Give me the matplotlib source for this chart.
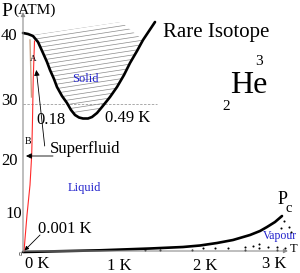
import matplotlib
matplotlib.use("Agg")
import matplotlib.pyplot as plt
from matplotlib.patches import Polygon

# schematic phase diagram of He-3, drawn in diagram units (x right, y down)
melt_x = [23, 28, 33, 38, 43, 47, 50, 54, 57, 62, 67, 71, 75, 79, 83, 88, 92, 97, 102, 110, 117, 124, 130, 137, 143, 149, 155]
melt_y = [33, 34, 36, 42, 53, 62, 70, 79, 87, 96, 103, 110, 115, 117.5, 118.5, 118.5, 117, 113, 107, 97, 87, 75, 63, 51, 40, 31, 22]

vap_x = [23, 60, 100, 150, 183, 200, 217, 233, 250, 260, 267, 275, 282]
vap_y = [252, 251.2, 250.3, 248.5, 247, 245.5, 243, 240, 235, 231, 227, 222, 216]

lambda_x = [24, 27, 30, 31.7, 32.5, 33.2, 34.5]
lambda_y = [251, 215, 185, 155, 120, 80, 41]

dots_x = [145, 160, 192, 203, 215, 228, 245, 245, 253, 259, 259, 268, 277, 277, 285, 284, 289, 281, 291]
dots_y = [250, 250, 250, 248, 248, 248, 247, 250, 246, 244, 248, 247, 247, 250, 248, 221, 227, 228, 232]

p_labels = ["40", "30", "20", "10"]
p_label_y = [39.5, 105, 165, 218]
p_label_x = [1, 1, 1, 5]
t_labels = ["0 K", "1 K", "2 K", "3 K"]
t_label_x = [25, 107, 193, 262]
t_label_y = [267.5, 270, 269.5, 267.5]

serif = ["Liberation Serif", "DejaVu Serif"]
blue = "#2222cc"
gray = "#8c8c8c"

fig = plt.figure(figsize=(3, 2.73), dpi=100)
ax = fig.add_axes([0, 0, 1, 1])
ax.set_xlim(0, 300)
ax.set_ylim(273, 0)
ax.axis("off")

# axes arrows
ax.annotate("", xy=(23, 12), xytext=(23, 252),
            arrowprops=dict(arrowstyle="-|>", color=gray, lw=0.8, mutation_scale=6, shrinkA=0, shrinkB=0))
ax.annotate("", xy=(288, 251), xytext=(23, 251),
            arrowprops=dict(arrowstyle="-|>", color=gray, lw=0.8, mutation_scale=6, shrinkA=0, shrinkB=0))

# 30 atm dashed line
ax.plot([23, 157], [104, 104], color="#aaaaaa", lw=0.7, ls=(0, (2.5, 1.5)))

# hatching of solid region
i0 = melt_x.index(33)
i1 = melt_x.index(143)
poly = [(x, y) for x, y in zip(melt_x[i0:i1 + 1], melt_y[i0:i1 + 1])] + [(121, 22), (33, 35)]
clip = Polygon(poly, closed=True, facecolor="none", edgecolor="none")
ax.add_patch(clip)
for k in range(20):
    y0 = 35 + 4.4 * k
    ln, = ax.plot([25, 160], [y0 + 0.153 * 8, y0 - 0.153 * 127], color="#8a8a8a", lw=0.5)
    ln.set_clip_path(clip)

# curves
ax.plot(melt_x, melt_y, color="black", lw=1.9, solid_capstyle="round")
ax.plot(vap_x, vap_y, color="black", lw=1.9, solid_capstyle="round")
ax.plot(lambda_x, lambda_y, color="#ff2a2a", lw=0.8)
ax.plot([30, 31.5], [40, 97], color="#c8a184", lw=1.0)
ax.plot(dots_x, dots_y, ls="none", marker="o", ms=1.5, mew=0, color="black")

# arrows
arr = dict(arrowstyle="-|>", color="black", lw=0.6, mutation_scale=8, shrinkA=0, shrinkB=0)
ax.annotate("", xy=(36.3, 70), xytext=(44.7, 146), arrowprops=arr)
ax.annotate("", xy=(26, 156), xytext=(53, 156), arrowprops=arr)
ax.annotate("", xy=(24.5, 250.5), xytext=(40, 235), arrowprops=dict(arr, mutation_scale=6))

# text
ax.text(1, 15.5, "P", fontsize=14, family=serif)
ax.text(13.5, 14, "(ATM)", fontsize=11, family=serif)
for s, x, y in zip(p_labels, p_label_x, p_label_y):
    ax.text(x, y, s, fontsize=12, family=serif)
ax.text(20, 254, "0", fontsize=4.5, family=serif, ha="center", va="center")
for s, x, y in zip(t_labels, t_label_x, t_label_y):
    ax.text(x, y, s, fontsize=12, family=serif)
ax.text(289.5, 251.5, "T", fontsize=9, family=serif)
ax.text(277.5, 204.5, "P", fontsize=13, family=serif)
ax.text(286, 212.5, "c", fontsize=10.5, family=serif)

ax.text(163, 37, "Rare Isotope", fontsize=15, family=serif)
ax.text(230, 93, "He", fontsize=23, family=serif)
ax.text(255, 65, "3", fontsize=11, family=serif)
ax.text(222, 110, "2", fontsize=11, family=serif)

ax.text(36, 124.5, "0.18", fontsize=12, family=serif)
ax.text(105, 122.5, "0.49 K", fontsize=12, family=serif)
ax.text(50, 153, "Superfluid", fontsize=12, family=serif)
ax.text(38, 233, "0.001 K", fontsize=12, family=serif)
ax.text(24.5, 144.5, "B", fontsize=7, family=serif)
ax.text(29.5, 61, "A", fontsize=6.5, family=serif)

ax.text(72, 81.5, "Solid", fontsize=9, family=serif, color=blue)
ax.text(68, 191, "Liquid", fontsize=9, family=serif, color=blue)
ax.text(263, 239, "Vapour", fontsize=8.5, family=serif, color=blue)

fig.savefig("out.png", dpi=100)
